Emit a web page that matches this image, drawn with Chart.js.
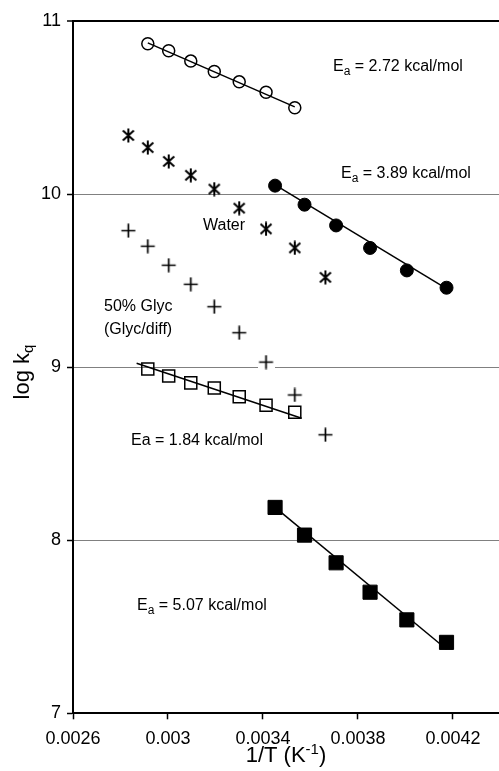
<!DOCTYPE html>
<html>
<head>
<meta charset="utf-8">
<script src="https://cdn.jsdelivr.net/npm/chart.js@4.4.1/dist/chart.umd.min.js"></script>
<style>
html,body{margin:0;padding:0;background:#fff;overflow:hidden;}
#wrap{width:499px;height:771px;position:relative;}
</style>
</head>
<body>
<div id="wrap"><canvas id="c" width="499" height="771"></canvas></div>
<script>
// 1/T values (K^-1)
const invT7 = [0.002915, 0.003003, 0.003096, 0.003195, 0.003300, 0.003413, 0.003534];
const invT6 = [0.003451, 0.003575, 0.003708, 0.003851, 0.004006, 0.004173];
const invT9 = [0.002833, 0.002915, 0.003003, 0.003096, 0.003195, 0.003300, 0.003413, 0.003534, 0.003663];

// log kq series
const openCircles   = [10.87, 10.83, 10.77, 10.71, 10.65, 10.59, 10.50];
const filledCircles = [10.05, 9.94, 9.82, 9.69, 9.56, 9.46];
const water         = [10.34, 10.27, 10.19, 10.11, 10.03, 9.92, 9.80, 9.69, 9.52];
const glyc50        = [9.79, 9.70, 9.59, 9.48, 9.35, 9.20, 9.03, 8.84, 8.61];
const openSquares   = [8.99, 8.95, 8.91, 8.88, 8.83, 8.78, 8.74];
const filledSquares = [8.19, 8.03, 7.87, 7.70, 7.54, 7.41];

// fitted line endpoints
const fitOpenCircX = [0.002915, 0.003534], fitOpenCircY = [10.875, 10.505];
const fitFillCircX = [0.003451, 0.004173], fitFillCircY = [10.055, 9.455];
const fitOpenSqX   = [0.002868, 0.003563], fitOpenSqY   = [9.023, 8.705];
const fitFillSqX   = [0.003451, 0.004173], fitFillSqY   = [8.19, 7.37];

// axis ticks
const xTicks = [0.0026, 0.003, 0.0034, 0.0038, 0.0042];
const xTickLabels = ['0.0026', '0.003', '0.0034', '0.0038', '0.0042'];
const yTicks = [7, 8, 9, 10, 11];

const pts = (xs, ys) => xs.map((x, i) => ({x: x, y: ys[i]}));

// asterisk point style (6 arms)
const ast = document.createElement('canvas');
ast.width = 14; ast.height = 15;
(function(){
  const g = ast.getContext('2d');
  g.strokeStyle = '#000'; g.lineWidth = 2; g.lineCap = 'butt';
  g.beginPath();
  g.moveTo(7, 0.5); g.lineTo(7, 14.5);
  g.moveTo(1.5, 2.5); g.lineTo(12.5, 12.5);
  g.moveTo(1.5, 12.5); g.lineTo(12.5, 2.5);
  g.stroke();
})();

// plus point style on a white box
const plus = document.createElement('canvas');
plus.width = 17; plus.height = 15;
(function(){
  const g = plus.getContext('2d');
  g.fillStyle = '#fff'; g.fillRect(0, 0, 17, 15);
  g.strokeStyle = '#000'; g.lineWidth = 1.7;
  g.beginPath();
  g.moveTo(8.5, 0.5); g.lineTo(8.5, 14.5);
  g.moveTo(1.5, 7.5); g.lineTo(15.5, 7.5);
  g.stroke();
})();

const FONT = "'Liberation Sans', Arial, sans-serif";

const lineDs = (xs, ys) => ({
  data: pts(xs, ys), showLine: true, borderColor: '#000', borderWidth: 1.5,
  pointRadius: 0, fill: false, order: 1
});

const textPlugin = {
  id: 'texts',
  afterDraw(chart) {
    const ctx = chart.ctx;
    ctx.save();
    ctx.fillStyle = '#000';
    ctx.textBaseline = 'alphabetic';
    ctx.textAlign = 'left';
    function eaText(x, y, rest) {
      ctx.font = '16px ' + FONT;
      ctx.fillText('E', x, y);
      let w = ctx.measureText('E').width;
      ctx.font = '12px ' + FONT;
      ctx.fillText('a', x + w, y + 4);
      w += ctx.measureText('a').width;
      ctx.font = '16px ' + FONT;
      ctx.fillText(rest, x + w, y);
    }
    eaText(333, 71, ' = 2.72 kcal/mol');
    eaText(341, 178, ' = 3.89 kcal/mol');
    eaText(137, 610, ' = 5.07 kcal/mol');
    ctx.font = '16px ' + FONT;
    ctx.fillText('Water', 203, 230);
    ctx.fillText('50% Glyc', 104, 311);
    ctx.fillText('(Glyc/diff)', 104, 334);
    ctx.fillText('Ea = 1.84 kcal/mol', 131, 445);

    // x axis title
    const xa = chart.chartArea;
    const p1 = '1/T (K', sup = '-1', p3 = ')';
    ctx.font = '22px ' + FONT; const w1 = ctx.measureText(p1).width;
    ctx.font = '15px ' + FONT; const w2 = ctx.measureText(sup).width;
    ctx.font = '22px ' + FONT; const w3 = ctx.measureText(p3).width;
    let sx = (xa.left + xa.right) / 2 - (w1 + w2 + w3) / 2;
    const by = 762;
    ctx.font = '22px ' + FONT; ctx.fillText(p1, sx, by); sx += w1;
    ctx.font = '15px ' + FONT; ctx.fillText(sup, sx, by - 8); sx += w2;
    ctx.font = '22px ' + FONT; ctx.fillText(p3, sx, by);

    // y axis title (rotated)
    ctx.translate(29, 372);
    ctx.rotate(-Math.PI / 2);
    ctx.font = '22px ' + FONT; const a1 = ctx.measureText('log k').width;
    ctx.font = '15px ' + FONT; const a2 = ctx.measureText('q').width;
    let tx = -(a1 + a2) / 2;
    ctx.font = '22px ' + FONT; ctx.fillText('log k', tx, 0);
    ctx.font = '15px ' + FONT; ctx.fillText('q', tx + a1, 4);
    ctx.restore();
  }
};

new Chart(document.getElementById('c'), {
  type: 'scatter',
  data: {
    datasets: [
      { data: pts(invT9, glyc50), pointStyle: plus, order: 2 },
      lineDs(fitOpenCircX, fitOpenCircY),
      lineDs(fitFillCircX, fitFillCircY),
      lineDs(fitOpenSqX, fitOpenSqY),
      lineDs(fitFillSqX, fitFillSqY),
      { data: pts(invT7, openCircles), pointStyle: 'circle', pointRadius: 6,
        borderColor: '#000', backgroundColor: 'rgba(0,0,0,0)', borderWidth: 1.5, order: 0 },
      { data: pts(invT6, filledCircles), pointStyle: 'circle', pointRadius: 6.5,
        borderColor: '#000', backgroundColor: '#000', borderWidth: 1, order: 0 },
      { data: pts(invT9, water), pointStyle: ast, order: 0 },
      { data: pts(invT7, openSquares), pointStyle: 'rect', pointRadius: 8.5,
        borderColor: '#000', backgroundColor: 'rgba(0,0,0,0)', borderWidth: 1.5, order: 0 },
      { data: pts(invT6, filledSquares), pointStyle: 'rect', pointRadius: 10,
        borderColor: '#000', backgroundColor: '#000', borderWidth: 1, order: 0 }
    ]
  },
  options: {
    responsive: false,
    animation: false,
    devicePixelRatio: 1,
    layout: { autoPadding: false, padding: { top: 21.3, right: 0, left: 0, bottom: 0 } },
    plugins: { legend: { display: false }, tooltip: { enabled: false }, title: { display: false } },
    scales: {
      x: {
        type: 'linear', min: 0.0026, max: 0.004394,
        afterFit(s) { s.height = 57.7; s.paddingLeft = 0; s.paddingRight = 0; },
        afterBuildTicks(s) { s.ticks = xTicks.map(v => ({value: v})); },
        ticks: {
          color: '#000', font: { family: FONT, size: 18 }, padding: 9, maxRotation: 0,
          callback: (v) => { const i = xTicks.findIndex(t => Math.abs(t - v) < 1e-9); return i >= 0 ? xTickLabels[i] : ''; }
        },
        grid: { drawOnChartArea: false, drawTicks: true, tickLength: 6, tickColor: '#000', tickWidth: 1.5 },
        border: { display: true, color: '#000', width: 2 }
      },
      y: {
        type: 'linear', min: 7, max: 11,
        afterFit(s) { s.width = 73; s.paddingTop = 0; s.paddingBottom = 0; },
        afterBuildTicks(s) { s.ticks = yTicks.map(v => ({value: v})); },
        ticks: { color: '#000', font: { family: FONT, size: 18 }, padding: 6 },
        grid: {
          color: (c) => (c.tick && c.tick.value === 11) ? '#000' : '#808080',
          lineWidth: (c) => (c.tick && c.tick.value === 11) ? 2 : 1,
          tickLength: 6, tickColor: '#000', tickWidth: 1.5
        },
        border: { display: true, color: '#000', width: 2 }
      }
    }
  },
  plugins: [textPlugin]
});
</script>
</body>
</html>
